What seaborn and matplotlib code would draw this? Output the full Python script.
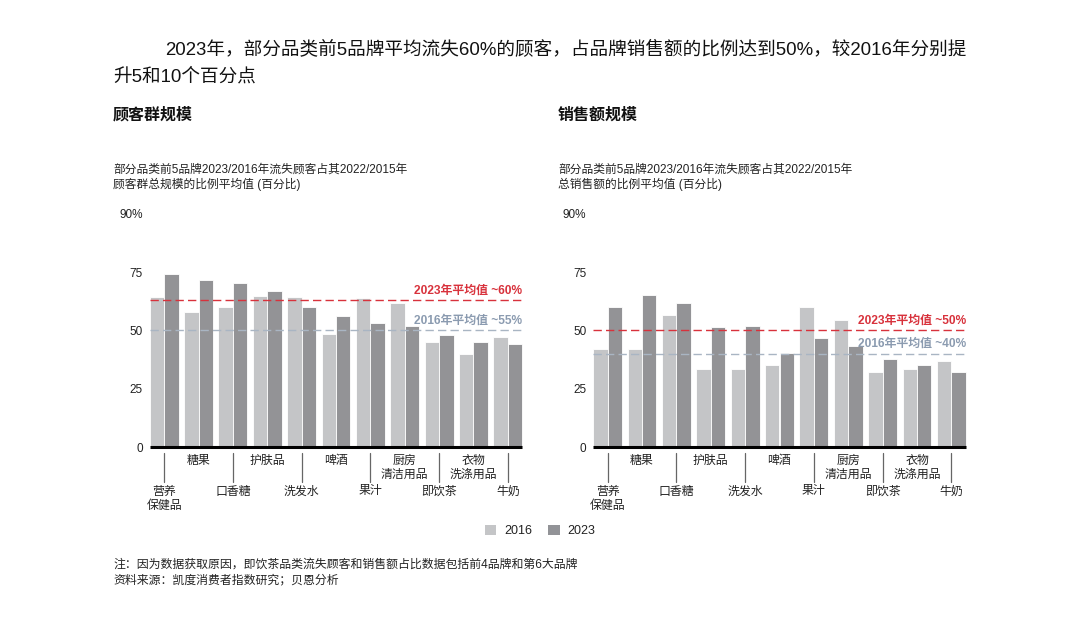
import matplotlib
matplotlib.use("Agg")
import matplotlib.pyplot as plt
import matplotlib.transforms as mtransforms
from matplotlib.patches import Patch
import seaborn as sns
import pandas as pd

# ---------------- data ----------------
categories = ["营养\n保健品", "糖果", "口香糖", "护肤品", "洗发水", "啤酒",
              "果汁", "厨房\n清洁用品", "即饮茶", "衣物\n洗涤用品", "牛奶"]
years = ["2016", "2023"]

cust_2016 = [64.3, 57.9, 60.1, 64.9, 64.3, 48.6, 63.9, 61.6, 45.1, 39.9, 47.0]
cust_2023 = [74.0, 71.4, 70.3, 67.0, 60.1, 56.0, 53.0, 51.9, 48.1, 45.1, 44.3]
sales_2016 = [42.1, 42.1, 56.7, 33.6, 33.6, 35.0, 60.1, 54.6, 32.3, 33.6, 36.9]
sales_2023 = [60.1, 65.0, 61.6, 51.6, 51.9, 40.1, 46.6, 43.4, 37.6, 35.0, 32.0]

cust_avg = {"2023": 63.0, "2016": 50.0}
sales_avg = {"2023": 50.0, "2016": 40.0}
cust_avg_labels = {"2023": "2023年平均值 ~60%", "2016": "2016年平均值 ~55%"}
sales_avg_labels = {"2023": "2023年平均值 ~50%", "2016": "2016年平均值 ~40%"}

y_ticks = [0, 25, 50, 75, 100]
y_tick_labels = ["0", "25", "50", "75", "90%"]

title_line1 = "2023年，部分品类前5品牌平均流失60%的顾客，占品牌销售额的比例达到50%，较2016年分别提"
title_line2 = "升5和10个百分点"
left_head = "顾客群规模"
right_head = "销售额规模"
left_sub = "部分品类前5品牌2023/2016年流失顾客占其2022/2015年\n顾客群总规模的比例平均值 (百分比)"
right_sub = "部分品类前5品牌2023/2016年流失顾客占其2022/2015年\n总销售额的比例平均值 (百分比)"
note1 = "注：因为数据获取原因，即饮茶品类流失顾客和销售额占比数据包括前4品牌和第6大品牌"
note2 = "资料来源：凯度消费者指数研究；贝恩分析"

# ---------------- style ----------------
sns.set_theme(style="white")
plt.rcParams["font.family"] = ["Liberation Sans", "Noto Sans CJK SC", "DejaVu Sans"]
plt.rcParams["axes.unicode_minus"] = False

c2016 = "#c4c5c7"
c2023 = "#929397"
red = "#d8323c"
blue_line = "#a9b5c3"
blue_text = "#8b9bb0"
palette = {"2016": c2016, "2023": c2023}

fig = plt.figure(figsize=(10.8, 6.23), dpi=100)
W, H = 1080, 623


def fx(px):
    return px / W


def fy(py):
    return 1 - py / H


def long_df(v16, v23):
    rows = []
    for c, a, b in zip(categories, v16, v23):
        rows.append({"cat": c, "year": "2016", "val": a})
        rows.append({"cat": c, "year": "2023", "val": b})
    return pd.DataFrame(rows)


def draw_panel(ax, v16, v23, avgs, avg_labels):
    df = long_df(v16, v23)
    sns.barplot(data=df, x="cat", y="val", hue="year", order=categories,
                hue_order=years, palette=palette, width=0.84, dodge=True,
                edgecolor="white", linewidth=0.6, legend=False, ax=ax,
                errorbar=None)
    n = len(categories)
    ax.set_xlim(-0.5, n - 0.5)
    ax.set_ylim(0, 100)
    ax.set_yticks(y_ticks)
    ax.set_yticklabels(y_tick_labels)
    ax.tick_params(axis="y", length=0, pad=3, labelsize=8.5, colors="#222222")
    ax.set_xticks([])
    ax.set_xlabel("")
    ax.set_ylabel("")
    for s in ax.spines.values():
        s.set_visible(False)
    x0, x1 = -0.42, n - 1 + 0.42
    # average lines
    ax.hlines(avgs["2023"], x0, x1, colors=red, linestyles=(0, (6, 3)), lw=1.0, zorder=4)
    ax.hlines(avgs["2016"], x0, x1, colors=blue_line, linestyles=(0, (6, 3)), lw=1.0, zorder=4)
    ax.annotate(avg_labels["2023"], xy=(x1, avgs["2023"]), xytext=(0, 7),
                textcoords="offset points", ha="right", va="center",
                color=red, fontsize=8.6, fontweight="bold", zorder=6)
    ax.annotate(avg_labels["2016"], xy=(x1, avgs["2016"]), xytext=(0, 7),
                textcoords="offset points", ha="right", va="center",
                color=blue_text, fontsize=8.6, fontweight="bold", zorder=6)
    # zero line
    ax.hlines(0, x0, x1, colors="black", lw=2.2, zorder=5, clip_on=False)
    # category labels & separators
    trans = mtransforms.blended_transform_factory(ax.transData, ax.transAxes)
    for i, c in enumerate(categories):
        if i % 2 == 0:
            ax.plot([i, i], [-0.026, -0.150], color="#666666", lw=0.9,
                    transform=trans, clip_on=False)
            ax.text(i, -0.165, c, transform=trans, ha="center", va="top",
                    fontsize=8.6, color="#222222", linespacing=1.25)
        else:
            ax.text(i, -0.035, c, transform=trans, ha="center", va="top",
                    fontsize=8.6, color="#222222", linespacing=1.15)


ax_h = 233.3 / H
ax_b = fy(447)
ax_w = 378 / W
axL = fig.add_axes([fx(147), ax_b, ax_w, ax_h])
axR = fig.add_axes([fx(590.5), ax_b, ax_w, ax_h])
draw_panel(axL, cust_2016, cust_2023, cust_avg, cust_avg_labels)
draw_panel(axR, sales_2016, sales_2023, sales_avg, sales_avg_labels)

# ---------------- texts ----------------
fig.text(fx(165), fy(50), title_line1, ha="left", va="center", fontsize=13.4, color="#111111")
fig.text(fx(113), fy(77), title_line2, ha="left", va="center", fontsize=13.4, color="#111111")
fig.text(fx(113), fy(115), left_head, ha="left", va="center", fontsize=11.5,
         fontweight="bold", color="#111111")
fig.text(fx(558), fy(115), right_head, ha="left", va="center", fontsize=11.5,
         fontweight="bold", color="#111111")
fig.text(fx(113), fy(177.5), left_sub, ha="left", va="center", fontsize=8.45,
         color="#222222", linespacing=1.25)
fig.text(fx(558), fy(177.5), right_sub, ha="left", va="center", fontsize=8.45,
         color="#222222", linespacing=1.25)
fig.text(fx(113), fy(565), note1, ha="left", va="center", fontsize=8.55, color="#222222")
fig.text(fx(113), fy(580), note2, ha="left", va="center", fontsize=8.55, color="#222222")

handles = [Patch(facecolor=palette[y], edgecolor="none") for y in years]
fig.legend(handles, years, loc="center", bbox_to_anchor=(fx(540), fy(531)),
           ncol=2, frameon=False, fontsize=9, handlelength=0.95, handleheight=0.95,
           handletextpad=0.6, columnspacing=1.3, labelcolor="#222222")

fig.savefig("out.png", dpi=100, facecolor="white")
